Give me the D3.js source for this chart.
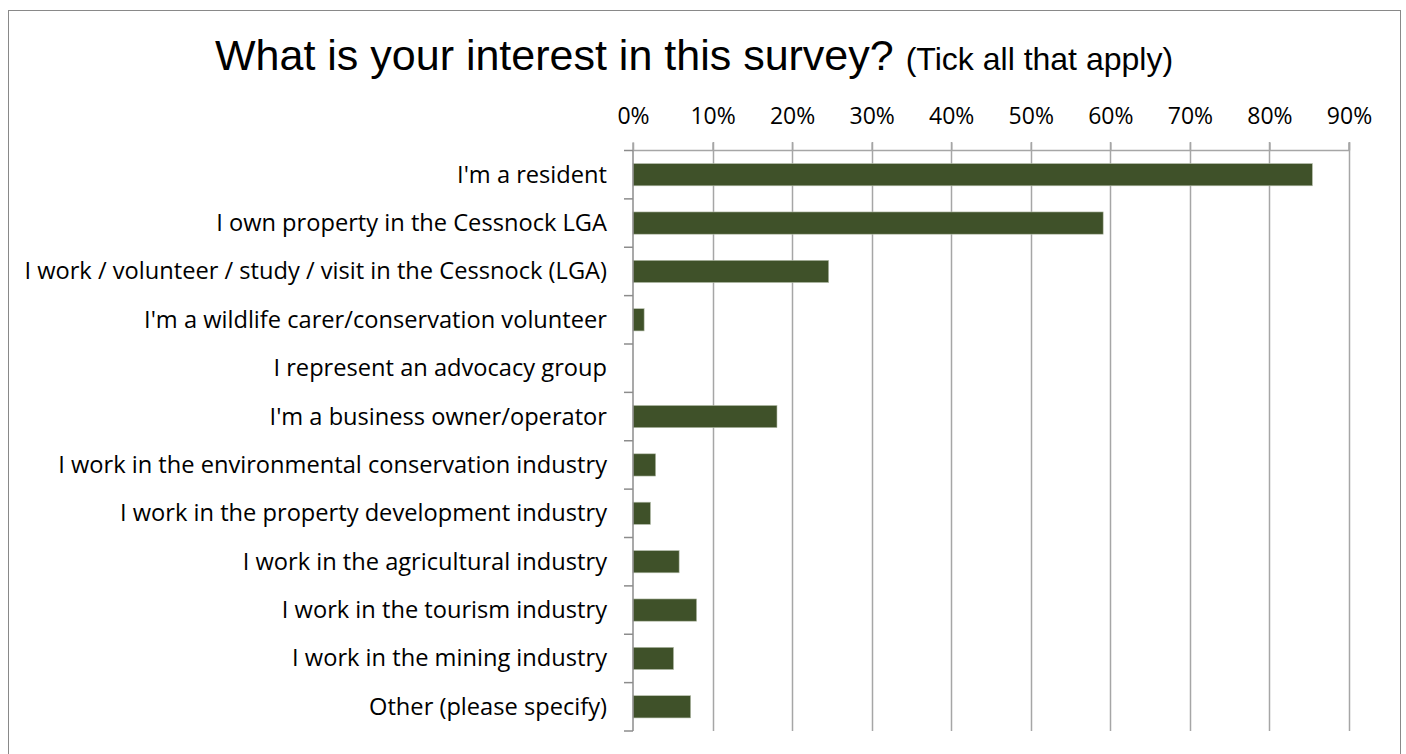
<!DOCTYPE html>
<html><head><meta charset="utf-8">
<script src="https://cdn.jsdelivr.net/npm/d3@7"></script>
<style>body{margin:0;background:#fff}svg{display:block}</style>
</head><body>
<svg id="c" width="1406" height="754"></svg>
<script>
const categories = [
  "I'm a resident",
  "I own property in the Cessnock LGA",
  "I work / volunteer / study / visit in the Cessnock (LGA)",
  "I'm a wildlife carer/conservation volunteer",
  "I represent an advocacy group",
  "I'm a business owner/operator",
  "I work in the environmental conservation industry",
  "I work in the property development industry",
  "I work in the agricultural industry",
  "I work in the tourism industry",
  "I work in the mining industry",
  "Other (please specify)"
];
const values = [85.4, 59.1, 24.6, 1.4, 0, 18.1, 2.85, 2.2, 5.8, 8.0, 5.1, 7.25];
const tickValues = [0,10,20,30,40,50,60,70,80,90];
const tickLabels = ["0%","10%","20%","30%","40%","50%","60%","70%","80%","90%"];

const svg = d3.select("#c");
const labelFont = "'Open Sans', Lato, sans-serif";

svg.append("rect").attr("x",8.5).attr("y",10.5).attr("width",1392).attr("height",760)
  .attr("fill","#fff").attr("stroke","#898989").attr("stroke-width",1);

// title
const title = svg.append("text").attr("x",215).attr("y",70).attr("text-anchor","start")
  .attr("font-family","Arial, 'Liberation Sans', sans-serif").attr("fill","#000");
title.append("tspan").attr("font-size",43).text("What is your interest in this survey?");
title.append("tspan").attr("font-size",32).attr("dx",12).text("(Tick all that apply)");

const x = d3.scaleLinear().domain([0,90]).range([633,1349]);
const y = d3.scaleBand().domain(categories).range([150.5,731]).paddingInner(0.54).paddingOuter(0.27);
const yb = d3.scaleBand().domain(categories).range([150.5,731]);

// gridlines
svg.append("g").selectAll("line").data(tickValues.slice(1)).join("line")
  .attr("x1",d=>Math.round(x(d))+0.5).attr("x2",d=>Math.round(x(d))+0.5)
  .attr("y1",142).attr("y2",731).attr("stroke","#a6a6a6").attr("stroke-width",1.5);

// top axis
const xAxis = d3.axisTop(x).tickValues(tickValues).tickFormat((d,i)=>tickLabels[i]).tickSize(8).tickPadding(0);
const gx = svg.append("g").attr("transform","translate(0,150.5)").call(xAxis);
gx.select(".domain").attr("stroke","#a6a6a6").attr("stroke-width",1.5).attr("d","M633,-8V0H1349V-8");
gx.selectAll(".tick line").attr("stroke","#a6a6a6").attr("stroke-width",1.5);
gx.selectAll(".tick text").attr("font-family",labelFont).attr("font-size",23).attr("fill","#000")
  .attr("y",-26.5).attr("dy",0);

// bars
svg.append("g").selectAll("rect").data(values).join("rect")
  .attr("x",x(0)).attr("y",(d,i)=>y(categories[i]))
  .attr("width",d=>x(d)-x(0)).attr("height",y.bandwidth())
  .attr("fill","#3f5129").attr("stroke","#b8c0ae").attr("stroke-width",0.6);

// left category axis
const gy = svg.append("g");
gy.append("line").attr("x1",633).attr("x2",633).attr("y1",150.5).attr("y2",731)
  .attr("stroke","#8c8c8c").attr("stroke-width",1.5);
const edges = categories.map(c=>yb(c)).concat([731]);
gy.selectAll("line.t").data(edges).join("line").attr("class","t")
  .attr("x1",624).attr("x2",633).attr("y1",d=>d).attr("y2",d=>d)
  .attr("stroke","#8c8c8c").attr("stroke-width",1.5);
const labels = gy.selectAll("text").data(categories).join("text")
  .attr("x",607).attr("y",d=>yb(d)+yb.bandwidth()/2+8)
  .attr("text-anchor","end").attr("font-family",labelFont).attr("font-size",20).attr("fill","#000")
  .text(d=>d);
// fit font size so the longest label width matches the reference
const w = labels.nodes()[2].getComputedTextLength();
labels.attr("font-size", 20*583/w);
</script>
</body></html>
